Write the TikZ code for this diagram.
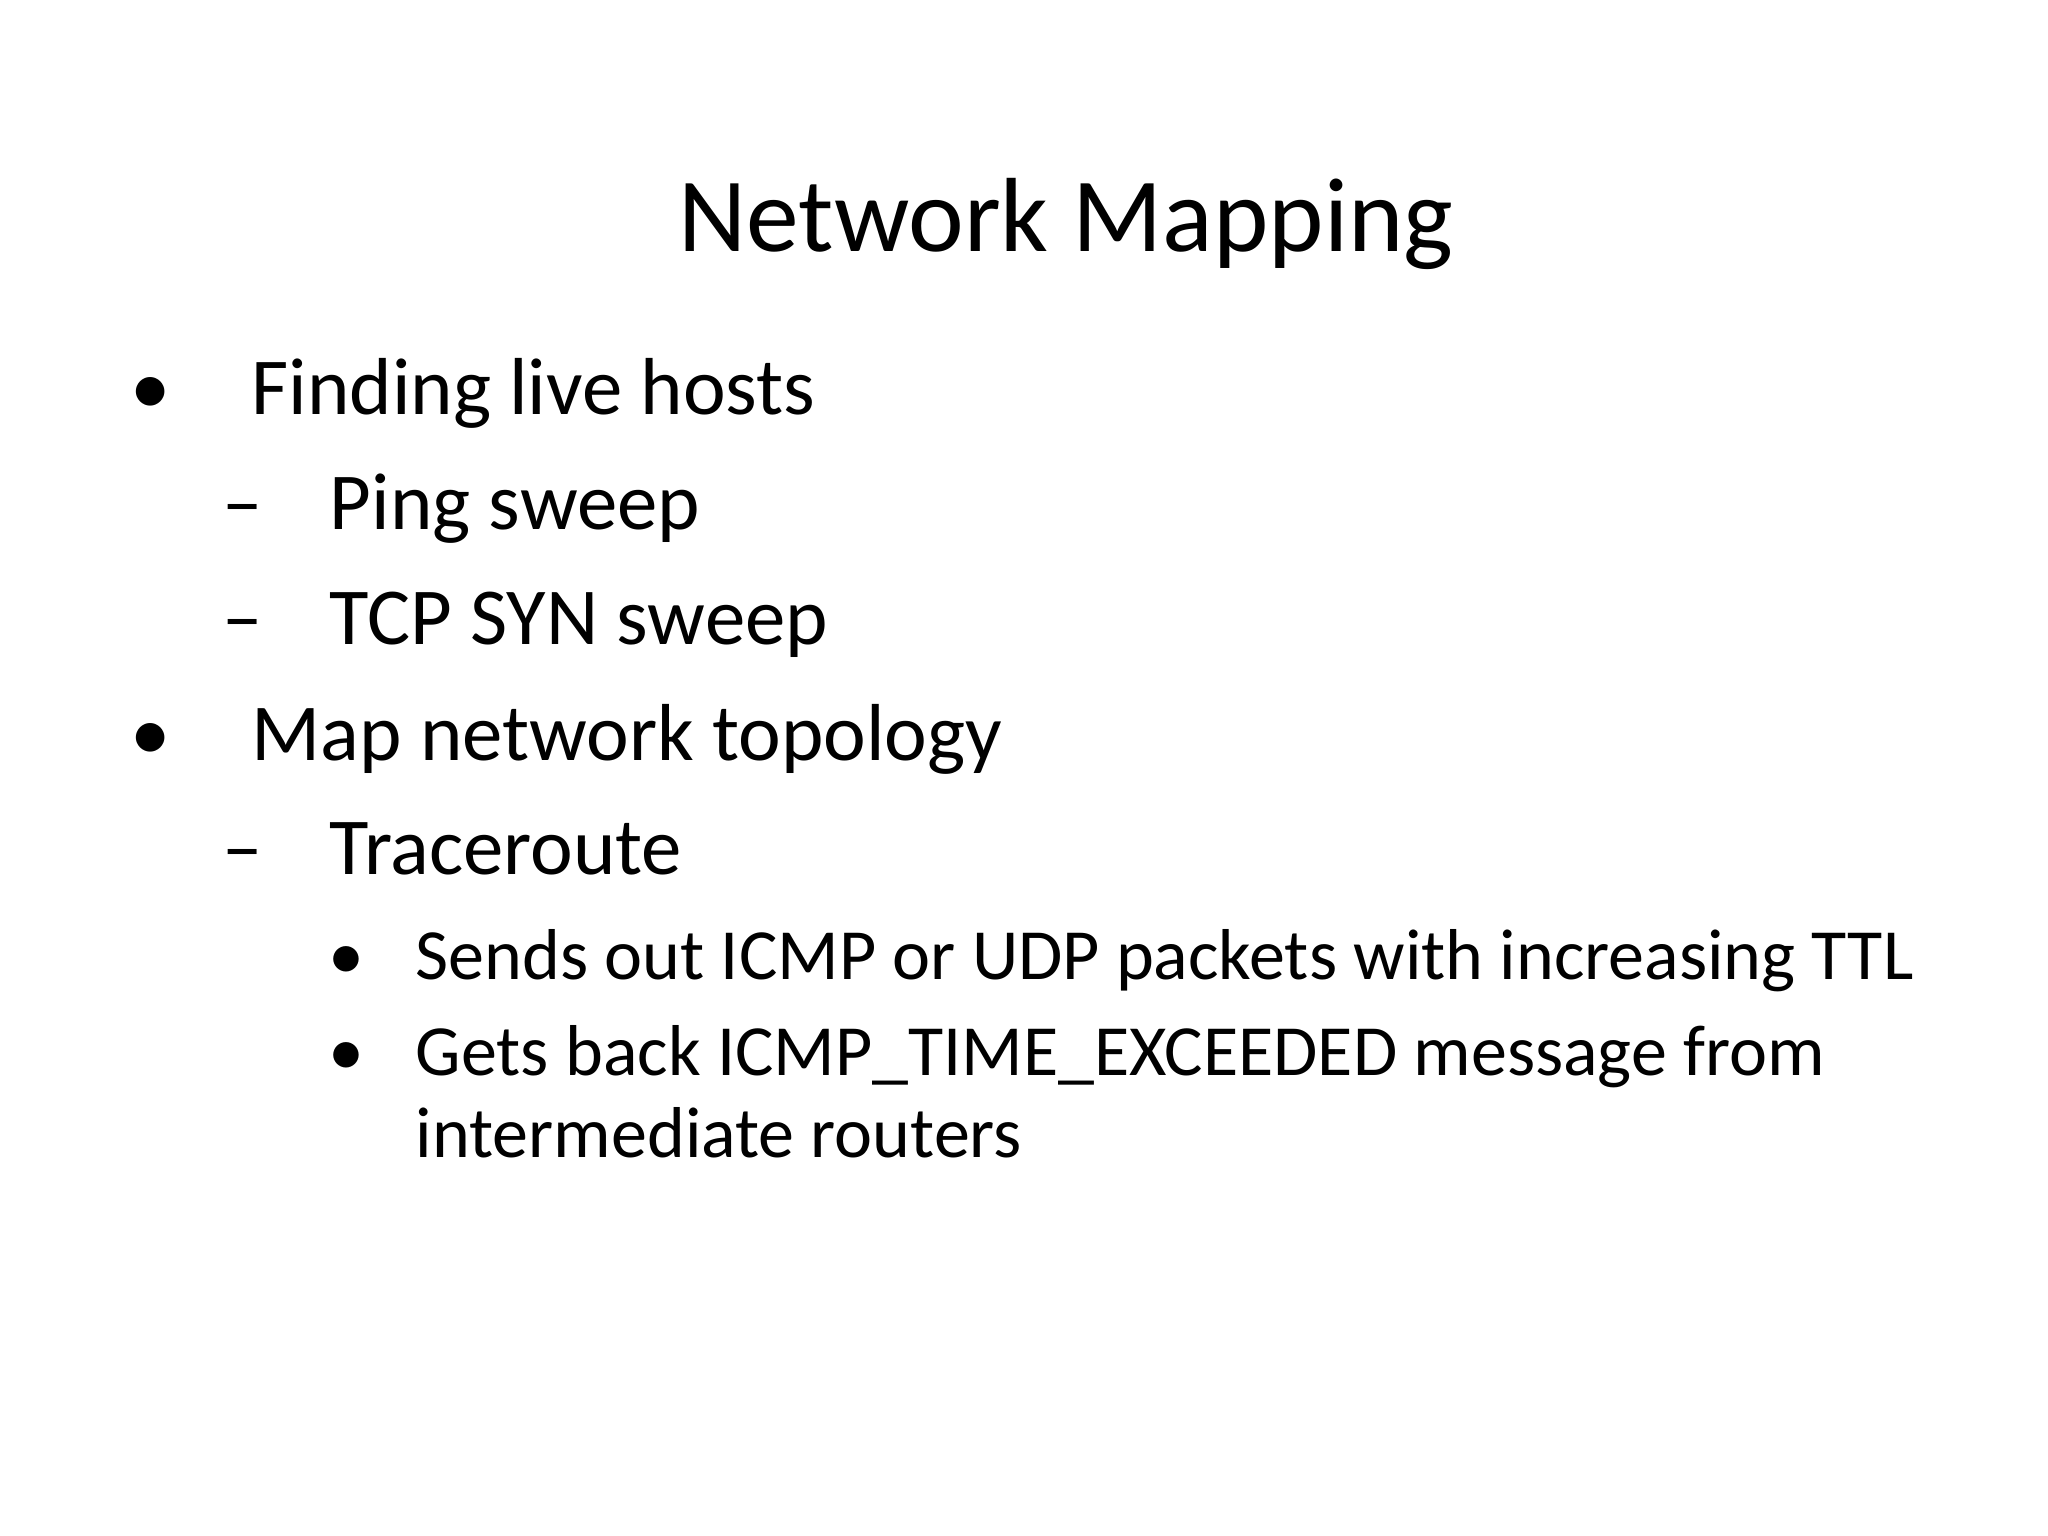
\documentclass[tikz,border=0pt]{standalone}
\usepackage{fontspec}
\setmainfont{Carlito}
\begin{document}
\begin{tikzpicture}[x=1cm,y=1cm,
  t/.style={anchor=base west,inner sep=0pt,font=\fontsize{23}{28}\selectfont},
  s/.style={anchor=base west,inner sep=0pt,font=\fontsize{20.5}{25}\selectfont}]
\useasboundingbox (0,0) rectangle (20.48,15.36);
\node[anchor=base,inner sep=0pt,font=\fontsize{30}{36}\selectfont] (title) at (10.66,15.36-2.52) {Network Mapping};
\node[t] (b1) at (1.30,15.36-4.15) {•};
\node[t] (l1) at (2.51,15.36-4.15) {Finding live hosts};
\node[t] (d1) at (2.22,15.36-5.30) {–};
\node[t] (l2) at (3.29,15.36-5.30) {Ping sweep};
\node[t] (d2) at (2.22,15.36-6.45) {–};
\node[t] (l3) at (3.29,15.36-6.45) {TCP SYN sweep};
\node[t] (b2) at (1.30,15.36-7.61) {•};
\node[t] (l4) at (2.51,15.36-7.61) {Map network topology};
\node[t] (d3) at (2.22,15.36-8.75) {–};
\node[t] (l5) at (3.29,15.36-8.75) {Traceroute};
\node[s] (b3) at (3.28,15.36-9.80) {•};
\node[s] (l6) at (4.15,15.36-9.80) {Sends out ICMP or UDP packets with increasing TTL};
\node[s] (b4) at (3.28,15.36-10.76) {•};
\node[s] (l7) at (4.15,15.36-10.76) {Gets back ICMP\_TIME\_EXCEEDED message from};
\node[s] (l8) at (4.15,15.36-11.58) {intermediate routers};
\end{tikzpicture}
\end{document}
